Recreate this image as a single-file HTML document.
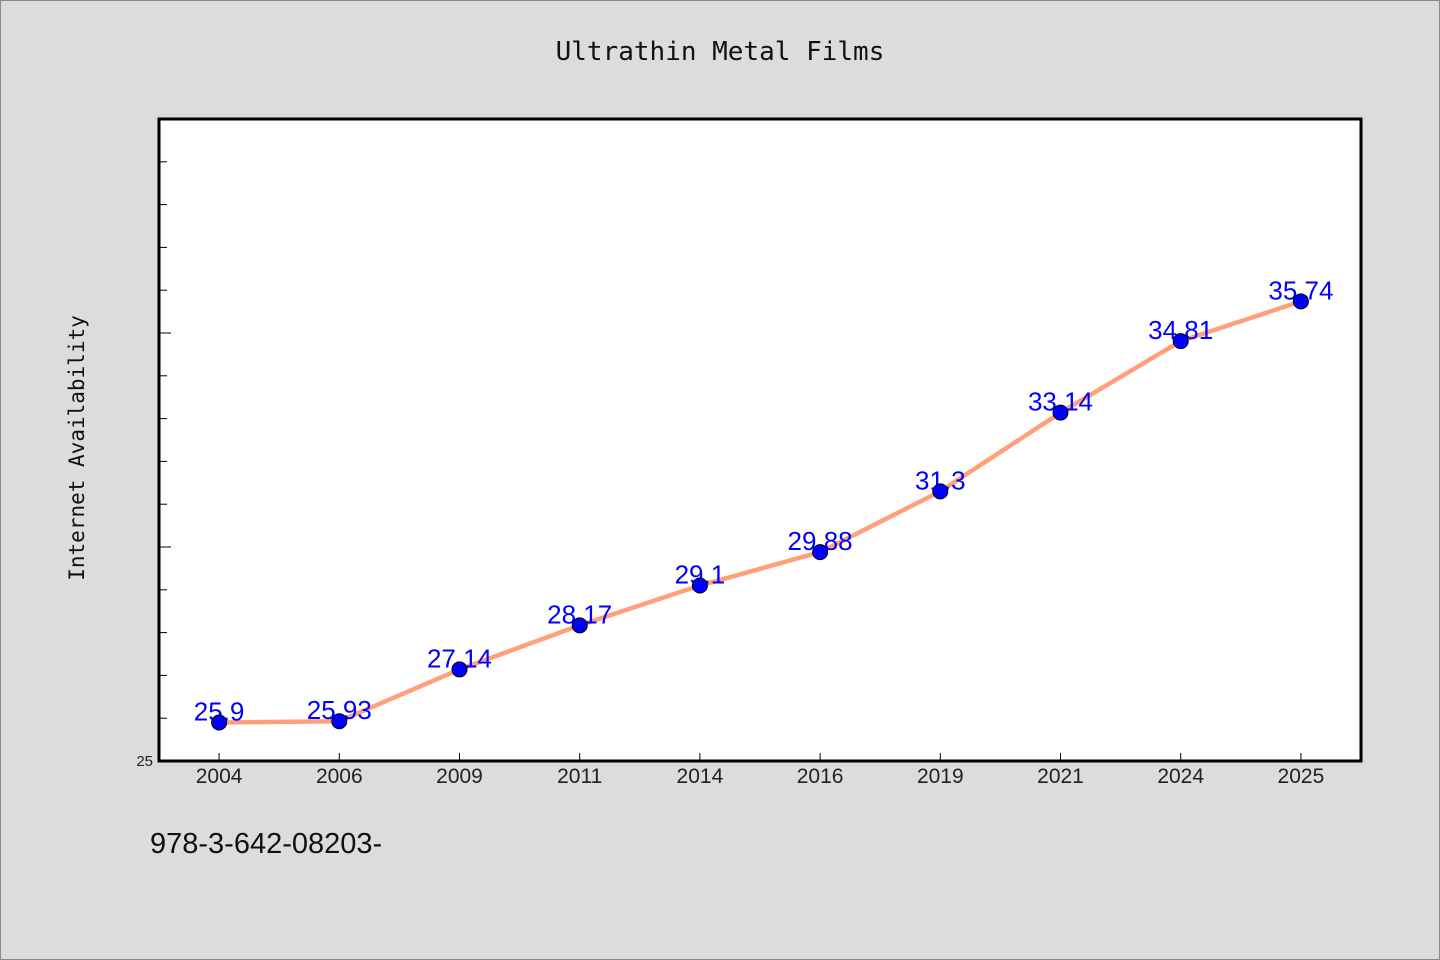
<!DOCTYPE html>
<html><head><meta charset="utf-8"><style>
html,body{margin:0;padding:0;background:#dcdcdc;}
svg{display:block;}
</style></head><body>
<svg id="chart" width="1440" height="960" xmlns="http://www.w3.org/2000/svg">
<rect x="0.5" y="0.5" width="1439" height="959" fill="#dcdcdc" stroke="#888"/>
<text x="720" y="60" text-anchor="middle" font-family="'DejaVu Sans Mono','Liberation Mono',monospace" font-size="26" fill="#111">Ultrathin Metal Films</text>
<rect x="159" y="119" width="1202" height="642" fill="#fff"/>
<text transform="translate(84,448) rotate(-90)" text-anchor="middle" font-family="'DejaVu Sans Mono','Liberation Mono',monospace" font-size="21" fill="#111">Internet Availability</text>
<text x="150" y="853" font-family="'Liberation Sans','DejaVu Sans',sans-serif" font-size="29" fill="#111">978-3-642-08203-</text>
<g id="ticks"></g>
<g id="series"></g>
<rect x="159" y="119" width="1202" height="642" fill="none" stroke="#000" stroke-width="3"/>
</svg>
<script>
const categories = ["2004","2006","2009","2011","2014","2016","2019","2021","2024","2025"];
const values = [25.9,25.93,27.14,28.17,29.1,29.88,31.3,33.14,34.81,35.74];
const valueLabels = ["25.9","25.93","27.14","28.17","29.1","29.88","31.3","33.14","34.81","35.74"];
const yMin = 25, yMax = 40;
const yTickLabels = ["25"];

const NS = "http://www.w3.org/2000/svg";
const L = 159, R = 1361, T = 119, B = 761;
const step = (R - L) / categories.length;
function xPos(i){ return L + step * (i + 0.5); }
function yPos(v){ return B - (v - yMin) / (yMax - yMin) * (B - T); }
function mk(tag, attrs, parent){ const e = document.createElementNS(NS, tag); for (const k in attrs) e.setAttribute(k, attrs[k]); parent.appendChild(e); return e; }

const tg = document.getElementById("ticks");
for (let v = yMin + 1; v < yMax; v++) {
  const len = (v % 5 === 0) ? 12 : 8;
  const t = mk("line", {x1: L, x2: L + len, y1: yPos(v), y2: yPos(v), stroke: "#000", "stroke-width": 1}, tg);
  
  
}
yTickLabels.forEach(s => {
  const t = mk("text", {x: L - 6, y: yPos(+s) + 5, "text-anchor": "end", "font-family": "'Liberation Sans',sans-serif", "font-size": 15, fill: "#222"}, tg);
  t.textContent = s;
  
  
});
categories.forEach((c, i) => {
  const t = mk("line", {x1: xPos(i), x2: xPos(i), y1: B, y2: B - 8, stroke: "#000", "stroke-width": 1}, tg);
  
  
  const tx = mk("text", {x: xPos(i), y: B + 22, "text-anchor": "middle", "font-family": "'Liberation Sans',sans-serif", "font-size": 21, fill: "#222"}, tg);
  tx.textContent = c;
  
  
});

const sg = document.getElementById("series");
const pts = values.map((v, i) => xPos(i) + "," + yPos(v)).join(" ");
const line = mk("polyline", {points: pts, fill: "none", stroke: "#ffa07a", "stroke-width": 4.5, "stroke-linejoin": "round"}, sg);


values.forEach((v, i) => {
  const t = mk("text", {x: xPos(i), y: yPos(v) - 2, "text-anchor": "middle", "font-family": "'Liberation Sans',sans-serif", "font-size": 26, fill: "#0000ff"}, sg);
  t.textContent = valueLabels[i];
  
  
});
values.forEach((v, i) => {
  const c = mk("circle", {cx: xPos(i), cy: yPos(v), r: 7.5, fill: "#0000ff", stroke: "#000", "stroke-width": 1}, sg);
  
  
});
</script>
</body></html>
